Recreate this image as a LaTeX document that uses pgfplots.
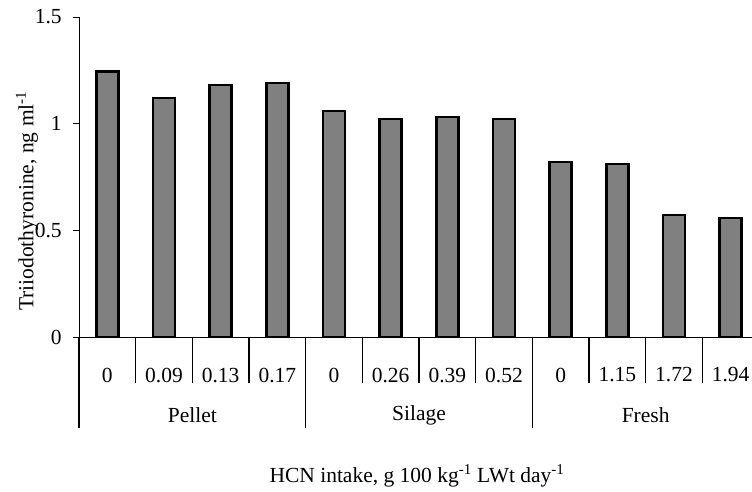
\documentclass[border=0pt]{standalone}
\usepackage{fontspec}
\setmainfont{Liberation Serif}
\usepackage{pgfplots}
\pgfplotsset{compat=1.18}
\begin{document}
\fontsize{21.5pt}{25pt}\selectfont
\begin{tikzpicture}[x=1pt,y=1pt]
\useasboundingbox (0,0) rectangle (752,-491);
\begin{axis}[
  at={(79pt,-337pt)}, anchor=south west,
  scale only axis, width=680pt, height=320pt,
  xmin=-0.5, xmax=11.5, ymin=0, ymax=1.5,
  axis x line*=bottom, axis y line*=left,
  axis line style={line width=1pt, black},
  clip=false,
  ybar, bar width=22pt, bar shift=0pt,
  xtick={0,1,2,3,4,5,6,7,8,9,10,11},
  xticklabels={0,0.09,0.13,0.17,0,0.26,0.39,0.52,0,1.15,1.72,1.94},
  xtick style={draw=none},
  x tick label style={anchor=center, yshift=-32pt, font=\fontsize{21.5pt}{25pt}\selectfont},
  ytick={0,0.5,1,1.5},
  yticklabels={0,0.5,1,1.5},
  tick align=outside,
  major tick length=6pt,
  ytick style={line width=1pt, black},
  y tick label style={xshift=-4pt, font=\fontsize{21.5pt}{25pt}\selectfont},
  /pgf/number format/assume math mode=true,
]
\addplot[fill={rgb,255:red,128;green,128;blue,128}, draw=black, line width=2.4pt]
  coordinates {(0,1.244) (1,1.119) (2,1.181) (3,1.19) (4,1.06) (5,1.022) (6,1.03) (7,1.022) (8,0.82) (9,0.81) (10,0.572) (11,0.558)};
\draw[line width=1.1pt] (axis cs:0.5,0) -- ++(0pt,-46pt);
\draw[line width=1.1pt] (axis cs:1.5,0) -- ++(0pt,-46pt);
\draw[line width=1.1pt] (axis cs:2.5,0) -- ++(0pt,-46pt);
\draw[line width=1.1pt] (axis cs:4.5,0) -- ++(0pt,-46pt);
\draw[line width=1.1pt] (axis cs:5.5,0) -- ++(0pt,-46pt);
\draw[line width=1.1pt] (axis cs:6.5,0) -- ++(0pt,-46pt);
\draw[line width=1.1pt] (axis cs:8.5,0) -- ++(0pt,-46pt);
\draw[line width=1.1pt] (axis cs:9.5,0) -- ++(0pt,-46pt);
\draw[line width=1.1pt] (axis cs:10.5,0) -- ++(0pt,-46pt);
\draw[line width=1.1pt] (axis cs:-0.5,0) -- ++(0pt,-91pt);
\draw[line width=1.1pt] (axis cs:3.5,0) -- ++(0pt,-91pt);
\draw[line width=1.1pt] (axis cs:7.5,0) -- ++(0pt,-91pt);
\draw[line width=1.1pt] (axis cs:11.5,0) -- ++(0pt,-91pt);
\node at ([yshift=-78pt]axis cs:1.5,0) {Pellet};
\node at ([yshift=-78pt]axis cs:5.5,0) {Silage};
\node at ([yshift=-78pt]axis cs:9.5,0) {Fresh};
\end{axis}
\node[rotate=90] at (27,-201) {Triiodothyronine, ng ml\textsuperscript{-1}};
\node at (417,-476) {HCN intake, g 100 kg\textsuperscript{-1} LWt day\textsuperscript{-1}};
\end{tikzpicture}
\end{document}
